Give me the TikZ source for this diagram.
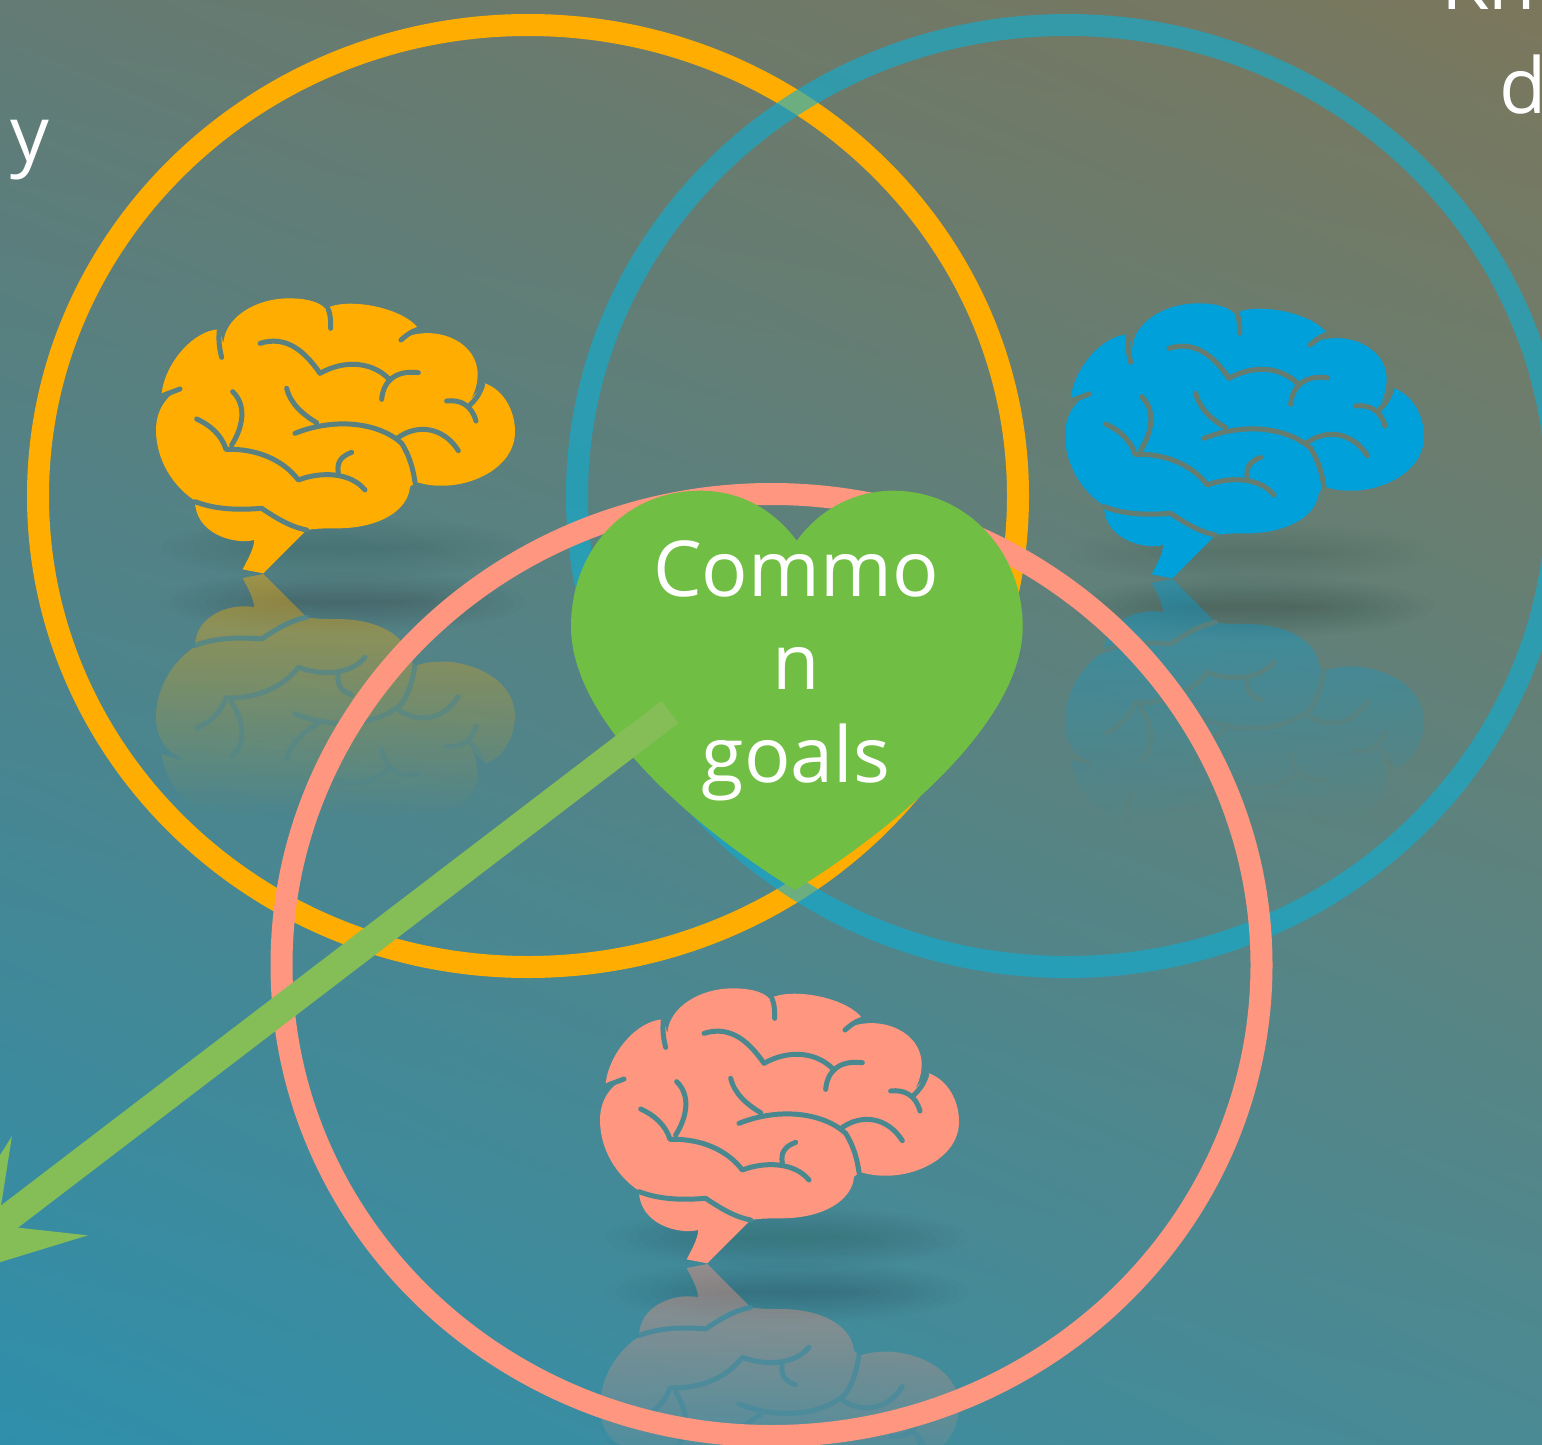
\documentclass[tikz,border=0pt]{standalone}
\usepackage{fontspec}
\setmainfont{Open Sans}
\usetikzlibrary{arrows.meta,fadings,shadings}
\definecolor{bgTL}{HTML}{637B74}
\definecolor{bgTR}{HTML}{7B775C}
\definecolor{bgBL}{HTML}{2F8FAB}
\definecolor{bgBR}{HTML}{4A8A94}
\definecolor{orangeC}{HTML}{FFAD00}
\definecolor{blueC}{HTML}{00A0DA}
\definecolor{blueRing}{rgb}{.04,.69,.84}
\definecolor{pinkC}{HTML}{FF9680}
\definecolor{heartC}{HTML}{70BF44}
\definecolor{arrowC}{HTML}{85BD57}
\definecolor{furA}{HTML}{5B8080}
\definecolor{furAr}{HTML}{4C8690}
\definecolor{furB}{HTML}{657C70}
\definecolor{furBr}{HTML}{5F8078}
\definecolor{furC}{HTML}{4A8890}
\definecolor{furCr}{HTML}{3C8A9E}
\tikzfading[name=reflfade, top color=transparent!30, bottom color=transparent!100]
\tikzfading[name=furfade, top color=transparent!0, bottom color=transparent!100]
\tikzset{
  ring/.style={line width=11pt},
  furrow/.style={line width=2.5pt,line cap=round,line join=round},
  labeltext/.style={text=white,inner sep=0pt,font=\fontsize{38.6}{46.5}\selectfont},
}
\newcommand{\brainoutline}{
  (65,340) .. controls (75,250) and (160,150) .. (238,148)
  -- (250,190) .. controls (255,110) and (350,55) .. (445,55)
  .. controls (510,55) and (550,70) .. (562,95)
  -- (570,80) .. controls (640,55) and (790,85) .. (835,145)
  -- (800,170) .. controls (900,135) and (1015,190) .. (1013,285)
  .. controls (1012,320) and (1000,350) .. (985,365)
  -- (1035,310) .. controls (1090,330) and (1125,390) .. (1125,455)
  .. controls (1125,560) and (1000,620) .. (900,617)
  .. controls (870,617) and (850,612) .. (828,606)
  -- (810,620) .. controls (805,690) and (720,745) .. (590,745)
  .. controls (560,745) and (530,745) .. (500,750)
  -- (370,880) -- (308,868) .. controls (325,835) and (340,810) .. (343,780)
  .. controls (280,795) and (165,760) .. (165,662)
  .. controls (100,620) and (48,540) .. (48,450)
  .. controls (48,395) and (75,350) .. (120,327) -- cycle}
\newcommand{\brainfurrows}{
  (238,150) .. controls (235,180) and (238,205) .. (245,232)
  (565,88) .. controls (572,105) and (572,125) .. (572,145)
  (835,148) .. controls (810,155) and (795,170) .. (783,180)
  (1028,315) .. controls (1018,345) and (1005,360) .. (990,375)
  (920,363) .. controls (960,358) and (995,375) .. (1008,423)
  (120,327) -- (72,345)
  (360,190) .. controls (440,165) and (495,215) .. (540,280)
  .. controls (620,235) and (700,250) .. (745,295)
  (835,278) .. controls (770,270) and (730,300) .. (725,358)
  (440,325) .. controls (450,370) and (490,405) .. (530,428)
  (465,460) .. controls (590,410) and (720,430) .. (785,490)
  .. controls (810,530) and (820,570) .. (825,607)
  (770,476) .. controls (830,430) and (910,440) .. (955,512)
  (278,335) .. controls (320,375) and (310,440) .. (275,495)
  (170,417) .. controls (210,435) and (245,465) .. (258,508)
  .. controls (350,505) and (430,540) .. (475,600)
  .. controls (540,575) and (630,575) .. (675,630)
  (635,517) .. controls (600,530) and (590,550) .. (595,578)
  (165,665) .. controls (230,690) and (300,690) .. (365,685)
  .. controls (410,715) and (450,740) .. (500,750)}
% #1 dx, #2 dy, #3 colour, #4 furrow colour, #5 reflection furrow colour
\newcommand{\drawbrain}[5]{
  \foreach \k in {1,...,12}{
    \fill[black,opacity=.009] (343+#1,548+#2) ellipse [x radius=50+11*\k,y radius=2.6*\k];
    \fill[black,opacity=.013] (343+#1,602+#2) ellipse [x radius=50+11*\k,y radius=2.6*\k];
  }
  \begin{scope}[shift={(140+#1,867.3+#2)},yscale=-1/3,xscale=1/3]
    \fill[#3,path fading=reflfade,fading transform={yshift=16pt,yscale=1.4}] \brainoutline;
    \draw[furrow,#5,path fading=furfade,fading transform={yscale=1.45}] \brainfurrows;
  \end{scope}
  \begin{scope}[shift={(140+#1,280+#2)},scale=1/3]
    \fill[#3] \brainoutline;
    \draw[furrow,#4] \brainfurrows;
  \end{scope}
}
\begin{document}
\begin{tikzpicture}[x=0.5pt,y=-0.5pt]
\useasboundingbox (0,0) rectangle (1542,1445);
\shade[upper left=bgTL,upper right=bgTR,lower left=bgBL,lower right=bgBR] (0,0) rectangle (1542,1445);
\drawbrain{0}{0}{orangeC}{furA}{furAr}
\drawbrain{909}{5}{blueC}{furB}{furBr}
\drawbrain{444}{690}{pinkC}{furC}{furCr}
\draw[ring,orangeC] (528,496) ellipse [x radius=490,y radius=471];
\draw[ring,blueRing,opacity=.6] (1067,496) ellipse [x radius=490,y radius=471];
\draw[ring,pinkC] (771.5,965) ellipse [x radius=490,y radius=471];
\fill[heartC] (796.7,540.7) .. controls (770,505) and (735,490.7) .. (700,490.7)
  .. controls (625,490.7) and (571,550) .. (571,626.7)
  .. controls (571,720) and (690,825) .. (795,890)
  .. controls (900,825) and (1022.7,720) .. (1022.7,626.7)
  .. controls (1022.7,550) and (965,490.7) .. (893,490.7)
  .. controls (860,490.7) and (823,505) .. (796.7,540.7) -- cycle;
\coordinate (goalstart) at (670,712);
\coordinate (goaltip) at (-84,1288);
\draw[arrowC,line width=14pt,-{Stealth[length=83pt,width=61pt,inset=31.5pt]}] (goalstart) -- (goaltip);
\node[labeltext,align=center] (goals) at (796,671) {Commo\\n\\goals};
\node[labeltext,anchor=base east] (lefttext) at (50,162) {g\kern6pt y};
\node[labeltext,anchor=base west] (righttop) at (1441,10) {Kn};
\node[labeltext,anchor=base west] (rightd) at (1499,113) {d};
\end{tikzpicture}
\end{document}
